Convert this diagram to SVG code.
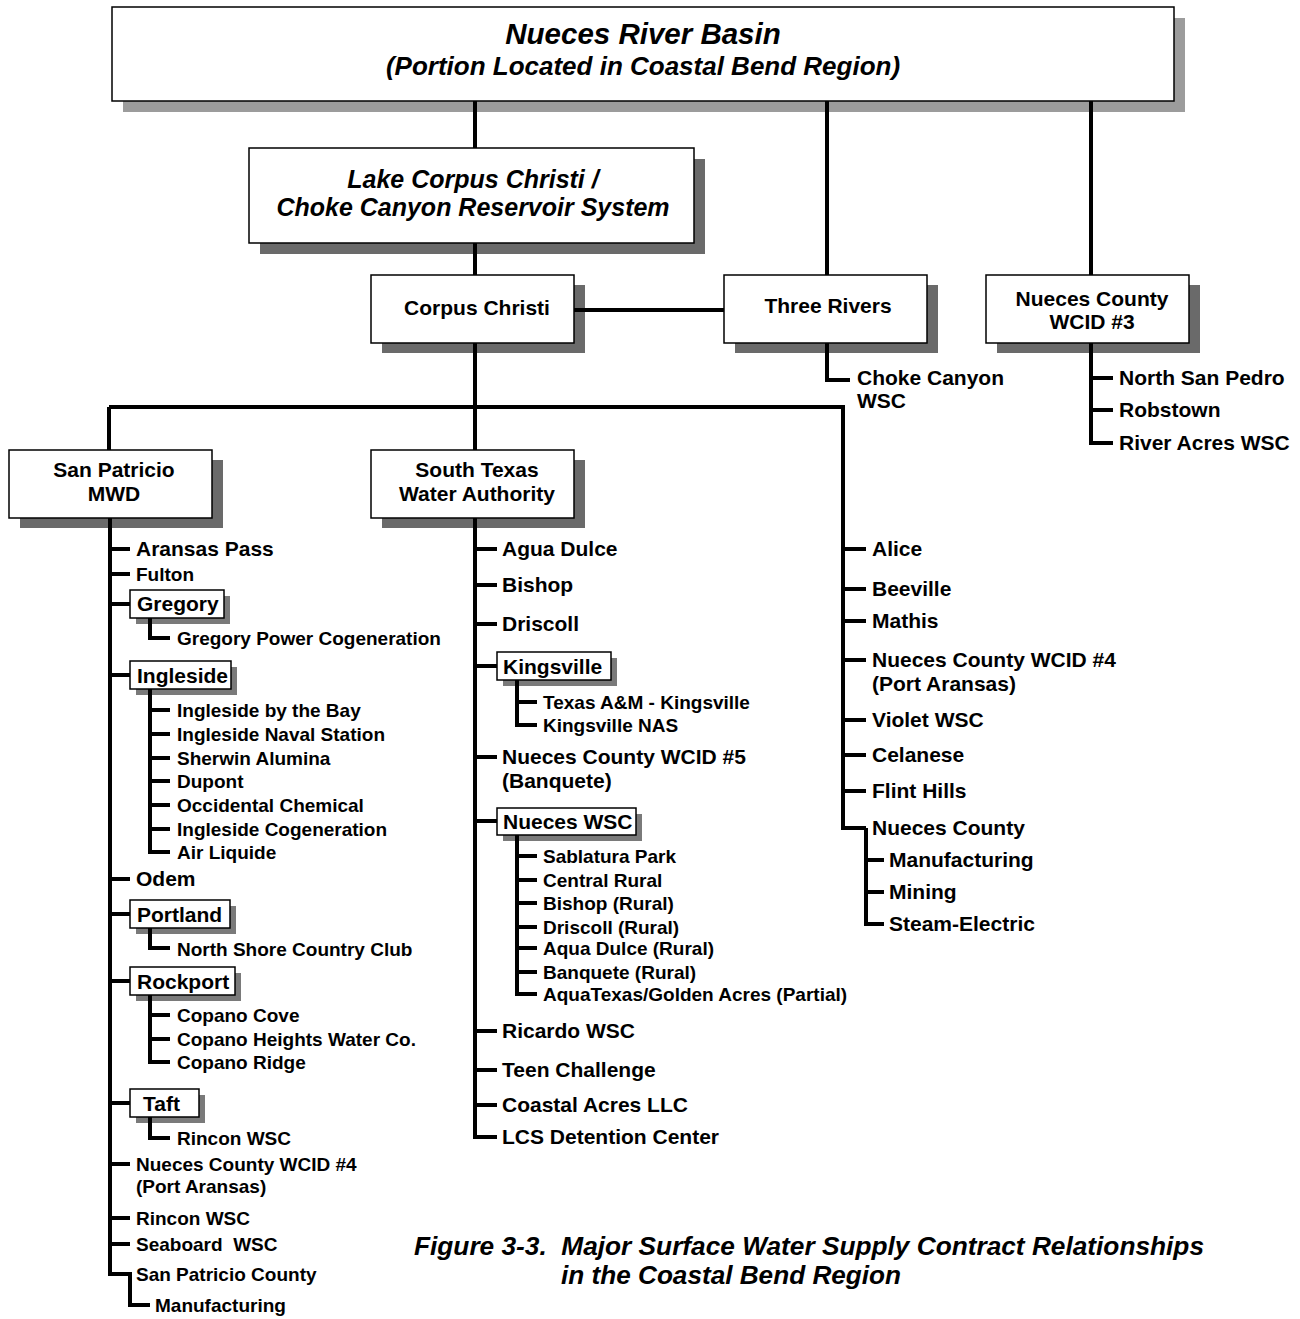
<svg xmlns="http://www.w3.org/2000/svg" width="1300" height="1319" viewBox="0 0 1300 1319">
<style>
text{font-family:"Liberation Sans",Arial,sans-serif;font-weight:bold;fill:#000}
.it{font-style:italic}
.c{text-anchor:middle}
.t21{font-size:21px}
.t19{font-size:19px}
.box{fill:#fff;stroke:#000;stroke-width:1.5}
.sh{fill:#6a6a6a}
.shl{fill:#9c9c9c}
.sb{fill:#fff;stroke:#000;stroke-width:1.5}
.ssh{fill:#7a7a7a}
.ln{fill:none;stroke:#000;stroke-width:4;stroke-linejoin:miter;stroke-linecap:butt}
</style>
<rect width="1300" height="1319" fill="#fff"/>

<g id="basin">
<rect class="shl" x="123" y="18" width="1062" height="94"/>
<rect class="box" x="112" y="7" width="1062" height="94"/>
<text class="it c" x="643" y="44" font-size="29.5">Nueces River Basin</text>
<text class="it c" x="643" y="75" font-size="26">(Portion Located in Coastal Bend Region)</text>
</g>

<g id="lake">
<rect class="sh" x="260" y="159" width="445" height="95"/>
<rect class="box" x="249" y="148" width="445" height="95"/>
<text class="it c" x="473" y="188" font-size="25">Lake Corpus Christi /</text>
<text class="it c" x="473" y="216" font-size="25">Choke Canyon Reservoir System</text>
</g>

<g id="corpus-christi">
<rect class="sh" x="382" y="285" width="203" height="68"/>
<rect class="box" x="371" y="275" width="203" height="68"/>
<text class="t21 c" x="477" y="315">Corpus Christi</text>
</g>

<g id="three-rivers">
<rect class="sh" x="735" y="285" width="203" height="68"/>
<rect class="box" x="724" y="275" width="203" height="68"/>
<text class="t21 c" x="828" y="313">Three Rivers</text>
</g>

<g id="wcid3">
<rect class="sh" x="997" y="285" width="203" height="68"/>
<rect class="box" x="986" y="275" width="203" height="68"/>
<text class="t21 c" x="1092" y="306">Nueces County</text>
<text class="t21 c" x="1092" y="329">WCID #3</text>
</g>

<g id="choke-canyon-wsc">
<text class="t21" x="857" y="385">Choke Canyon</text>
<text class="t21" x="857" y="408">WSC</text>
</g>
<g id="wcid3-customers">
<text class="t21" x="1119" y="385">North San Pedro</text>
<text class="t21" x="1119" y="417">Robstown</text>
<text class="t21" x="1119" y="450">River Acres WSC</text>
</g>

<g id="san-patricio-mwd">
<rect class="sh" x="20" y="460" width="203" height="68"/>
<rect class="box" x="9" y="450" width="203" height="68"/>
<text class="t21 c" x="114" y="477">San Patricio</text>
<text class="t21 c" x="114" y="501">MWD</text>
</g>

<g id="stwa">
<rect class="sh" x="382" y="460" width="203" height="68"/>
<rect class="box" x="371" y="450" width="203" height="68"/>
<text class="t21 c" x="477" y="477">South Texas</text>
<text class="t21 c" x="477" y="501">Water Authority</text>
</g>

<g id="san-patricio-customers">
<text class="t21" x="136" y="556">Aransas Pass</text>
<text class="t19" x="136" y="581">Fulton</text>
<g id="gregory">
<rect class="ssh" x="136" y="596" width="94" height="28"/>
<rect class="sb" x="130" y="590" width="94" height="28"/>
<text class="t21" x="137" y="611">Gregory</text>
</g>
<text class="t19" x="177" y="645">Gregory Power Cogeneration</text>
<g id="ingleside">
<rect class="ssh" x="136" y="667" width="101" height="28"/>
<rect class="sb" x="130" y="661" width="101" height="28"/>
<text class="t21" x="137" y="683">Ingleside</text>
</g>
<text class="t19" x="177" y="717">Ingleside by the Bay</text>
<text class="t19" x="177" y="741">Ingleside Naval Station</text>
<text class="t19" x="177" y="765">Sherwin Alumina</text>
<text class="t19" x="177" y="788">Dupont</text>
<text class="t19" x="177" y="812">Occidental Chemical</text>
<text class="t19" x="177" y="836">Ingleside Cogeneration</text>
<text class="t19" x="177" y="859">Air Liquide</text>
<text class="t21" x="136" y="886">Odem</text>
<g id="portland">
<rect class="ssh" x="136" y="906" width="100" height="28"/>
<rect class="sb" x="130" y="900" width="100" height="28"/>
<text class="t21" x="137" y="922">Portland</text>
</g>
<text class="t19" x="177" y="956">North Shore Country Club</text>
<g id="rockport">
<rect class="ssh" x="136" y="973" width="105" height="28"/>
<rect class="sb" x="130" y="967" width="105" height="28"/>
<text class="t21" x="137" y="989">Rockport</text>
</g>
<text class="t19" x="177" y="1022">Copano Cove</text>
<text class="t19" x="177" y="1046">Copano Heights Water Co.</text>
<text class="t19" x="177" y="1069">Copano Ridge</text>
<g id="taft">
<rect class="ssh" x="136" y="1095" width="69" height="28"/>
<rect class="sb" x="130" y="1089" width="69" height="28"/>
<text class="t21" x="143" y="1111">Taft</text>
</g>
<text class="t19" x="177" y="1145">Rincon WSC</text>
<text class="t19" x="136" y="1171">Nueces County WCID #4</text>
<text class="t19" x="136" y="1193">(Port Aransas)</text>
<text class="t19" x="136" y="1225">Rincon WSC</text>
<text class="t19" x="136" y="1251" xml:space="preserve">Seaboard  WSC</text>
<text class="t19" x="136" y="1281">San Patricio County</text>
<text class="t19" x="155" y="1312">Manufacturing</text>
</g>

<g id="stwa-customers">
<text class="t21" x="502" y="556">Agua Dulce</text>
<text class="t21" x="502" y="592">Bishop</text>
<text class="t21" x="502" y="631">Driscoll</text>
<g id="kingsville">
<rect class="ssh" x="503" y="658" width="114" height="28"/>
<rect class="sb" x="497" y="652" width="114" height="28"/>
<text class="t21" x="503" y="674">Kingsville</text>
</g>
<text class="t19" x="543" y="709">Texas A&amp;M - Kingsville</text>
<text class="t19" x="543" y="732">Kingsville NAS</text>
<text class="t21" x="502" y="764">Nueces County WCID #5</text>
<text class="t21" x="502" y="788">(Banquete)</text>
<g id="nueces-wsc">
<rect class="ssh" x="503" y="814" width="139" height="27"/>
<rect class="sb" x="497" y="808" width="139" height="27"/>
<text class="t21" x="503" y="829">Nueces WSC</text>
</g>
<text class="t19" x="543" y="863">Sablatura Park</text>
<text class="t19" x="543" y="887">Central Rural</text>
<text class="t19" x="543" y="910">Bishop (Rural)</text>
<text class="t19" x="543" y="934">Driscoll (Rural)</text>
<text class="t19" x="543" y="955">Aqua Dulce (Rural)</text>
<text class="t19" x="543" y="979">Banquete (Rural)</text>
<text class="t19" x="543" y="1001">AquaTexas/Golden Acres (Partial)</text>
<text class="t21" x="502" y="1038">Ricardo WSC</text>
<text class="t21" x="502" y="1077">Teen Challenge</text>
<text class="t21" x="502" y="1112">Coastal Acres LLC</text>
<text class="t21" x="502" y="1144">LCS Detention Center</text>
</g>

<g id="corpus-customers">
<text class="t21" x="872" y="556">Alice</text>
<text class="t21" x="872" y="596">Beeville</text>
<text class="t21" x="872" y="628">Mathis</text>
<text class="t21" x="872" y="667">Nueces County WCID #4</text>
<text class="t21" x="872" y="691">(Port Aransas)</text>
<text class="t21" x="872" y="727">Violet WSC</text>
<text class="t21" x="872" y="762">Celanese</text>
<text class="t21" x="872" y="798">Flint Hills</text>
<text class="t21" x="872" y="835">Nueces County</text>
<text class="t21" x="889" y="867">Manufacturing</text>
<text class="t21" x="889" y="899">Mining</text>
<text class="t21" x="889" y="931">Steam-Electric</text>
</g>

<g id="connectors" class="ln">
<path d="M475,101V148M827,101V275M1091,101V275M475,243V275M574,310H724"/>
<path d="M827,343V380H850"/>
<path d="M1091,343V443H1113M1091,378H1113M1091,410H1113"/>
<path d="M475,343V450M109,407H843V828H866M109,407V450"/>
<path d="M843,549H866M843,589H866M843,621H866M843,660H866M843,720H866M843,755H866M843,791H866"/>
<path d="M866,828V924H884M866,860H884M866,892H884"/>
<path d="M110,518V1274H130V1305H150"/>
<path d="M110,549H130M110,574H130M110,604H130M110,675H130M110,879H130M110,914H130M110,981H130M110,1103H130M110,1164H130M110,1218H130M110,1244H130"/>
<path d="M150,618V638H170"/>
<path d="M150,689V852H170M150,710H170M150,734H170M150,758H170M150,781H170M150,805H170M150,829H170"/>
<path d="M150,928V948H170"/>
<path d="M150,995V1062H170M150,1015H170M150,1039H170"/>
<path d="M150,1117V1138H170"/>
<path d="M475,518V1137H497M475,549H497M475,585H497M475,624H497M475,666H497M475,757H497M475,821H497M475,1031H497M475,1070H497M475,1105H497"/>
<path d="M517,680V725H537M517,702H537"/>
<path d="M517,835V994H537M517,856H537M517,880H537M517,903H537M517,927H537M517,948H537M517,972H537"/>
</g>

<g id="caption">
<text class="it" x="414" y="1255" font-size="26" textLength="790" lengthAdjust="spacingAndGlyphs" xml:space="preserve">Figure 3-3.  Major Surface Water Supply Contract Relationships</text>
<text class="it" x="561" y="1284" font-size="26" textLength="340" lengthAdjust="spacingAndGlyphs">in the Coastal Bend Region</text>
</g>
</svg>
